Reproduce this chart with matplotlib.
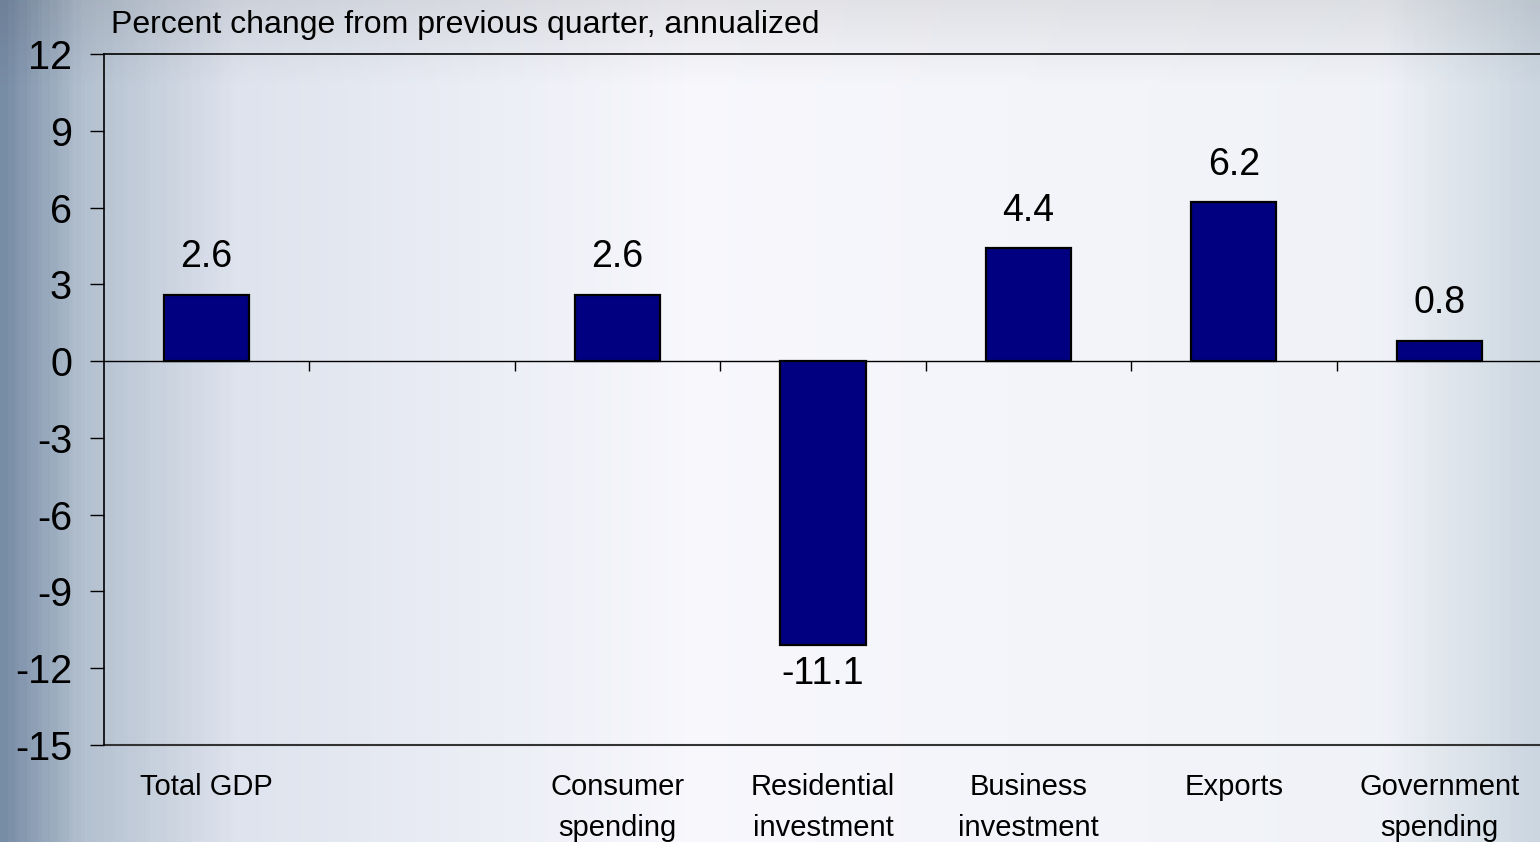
import numpy as np
import matplotlib.pyplot as plt
from matplotlib.colors import LinearSegmentedColormap

plt.rcParams['font.family'] = ['Liberation Sans', 'DejaVu Sans']

# data
categories = ["Total GDP", "", "Consumer\nspending", "Residential\ninvestment",
              "Business\ninvestment", "Exports", "Government\nspending"]
values = [2.6, None, 2.6, -11.1, 4.4, 6.2, 0.8]
yticks = [12, 9, 6, 3, 0, -3, -6, -9, -12, -15]
title = "Percent change from previous quarter, annualized"

fig = plt.figure(figsize=(15.4, 8.42), dpi=100)

# background gradient, dark blue-grey at the left edge, nearly white in the middle
bg = fig.add_axes([0, 0, 1, 1])
bg.set_axis_off()
xs = np.linspace(0, 1, 400)
stops = [(0.0, (0.47, 0.55, 0.65)), (0.05, (0.70, 0.75, 0.81)),
         (0.15, (0.87, 0.89, 0.93)), (0.45, (0.97, 0.97, 0.99)),
         (0.9, (0.94, 0.95, 0.97)), (1.0, (0.80, 0.84, 0.88))]
cmap = LinearSegmentedColormap.from_list("bg", stops)
grad = np.tile(xs, (200, 1))
img = cmap(grad)
# slightly darker band along the top
ys = np.linspace(0, 1, 200)[:, None]
shade = 1 - 0.08 * np.clip(1 - ys / 0.1, 0, 1)
img[..., :3] = img[..., :3] * shade[..., None]
bg.imshow(img, aspect='auto', extent=[0, 1, 0, 1], origin='upper')

ax = fig.add_axes([0.0675, 0.1152, 0.9338, 0.8207])
ax.patch.set_alpha(0)

pos = [i for i, v in enumerate(values) if v is not None]
vals = [v for v in values if v is not None]
ax.bar(pos, vals, width=0.414, color='#000080', edgecolor='black', linewidth=1.6, zorder=3)

for p, v in zip(pos, vals):
    off = 14 if v >= 0 else -8
    ax.annotate(f"{v:.1f}", (p, v), xytext=(0, off), textcoords='offset points',
                ha='center', va='bottom' if v >= 0 else 'top', fontsize=27)

ax.set_xlim(-0.5, len(categories) - 0.5)
ax.set_ylim(-15, 12)
ax.set_yticks(yticks)
ax.set_yticklabels([str(t) for t in yticks], fontsize=28.5)
ax.tick_params(axis='y', direction='out', length=10, width=1, pad=13)

# zero line carries the category boundary ticks
ax.spines['bottom'].set_position(('data', 0))
ax.spines['bottom'].set_linewidth(1)
ax.set_xticks([i + 0.5 for i in range(len(categories) - 1)])
ax.set_xticklabels([])
ax.tick_params(axis='x', direction='out', length=7, width=1)
ax.spines['right'].set_visible(False)
ax.spines['top'].set_linewidth(1.2)
ax.spines['left'].set_linewidth(1.2)
ax.axhline(-15, color='#333333', lw=1.5, clip_on=False)

for i, c in enumerate(categories):
    ax.annotate(c, (i, -15), xytext=(0, -20), textcoords='offset points',
                ha='center', va='top', fontsize=21, linespacing=1.6)

fig.text(0.072, 0.953, title, fontsize=23, ha='left', va='bottom')

fig.savefig("out.png", dpi=100)
